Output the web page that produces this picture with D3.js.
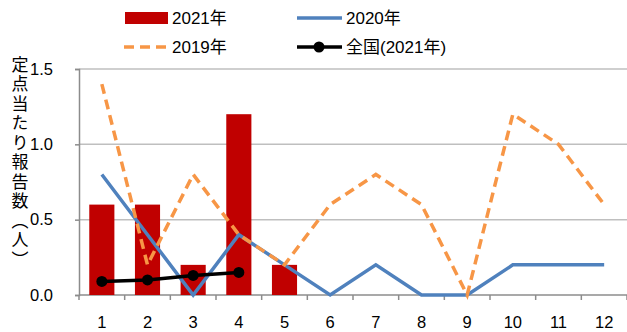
<!DOCTYPE html>
<html>
<head>
<meta charset="utf-8">
<script src="https://cdn.jsdelivr.net/npm/d3@7"></script>
<style>
  body { margin: 0; background: #fff; }
  text { font-family: "Liberation Sans", "Noto Sans CJK JP", sans-serif; }
</style>
</head>
<body>
<div id="chart"></div>
<script>
// data
var months = ["1","2","3","4","5","6","7","8","9","10","11","12"];
var y2021 = [0.6, 0.6, 0.2, 1.2, 0.2];
var y2020 = [0.8, 0.4, 0, 0.4, 0.2, 0, 0.2, 0, 0, 0.2, 0.2, 0.2];
var y2019 = [1.4, 0.2, 0.8, 0.4, 0.2, 0.6, 0.8, 0.6, 0, 1.2, 1.0, 0.6];
var national2021 = [0.09, 0.10, 0.13, 0.15];
var yTicks = [0, 0.5, 1.0, 1.5];

var W = 627, H = 332;
var margin = {top: 69, right: 0, bottom: 37, left: 79},
    width = W - margin.left - margin.right,
    height = H - margin.top - margin.bottom;

var svg = d3.select("#chart").append("svg")
  .attr("width", W).attr("height", H);
var g = svg.append("g")
  .attr("transform", "translate(" + margin.left + "," + margin.top + ")");

var x = d3.scaleBand().domain(months).range([0, width]).paddingInner(0.45).paddingOuter(0.225);
var xc = function(i) { return x(months[i]) + x.bandwidth() / 2; };
var y = d3.scaleLinear().domain([0, 1.5]).range([height, 0]);

// gridlines
g.selectAll(".grid").data(yTicks.slice(1)).enter().append("line")
  .attr("x1", 0).attr("x2", width)
  .attr("y1", function(d) { return y(d); }).attr("y2", function(d) { return y(d); })
  .attr("stroke", "#bfbfbf").attr("stroke-width", 1.5);

// y axis
var yAxis = g.append("g")
  .call(d3.axisLeft(y).tickValues(yTicks).tickFormat(d3.format(".1f")).tickSize(4).tickPadding(22));
yAxis.select(".domain").attr("stroke", "#8c8c8c").attr("stroke-width", 1.5);
yAxis.selectAll(".tick line").attr("stroke", "#8c8c8c").attr("stroke-width", 1.5);
yAxis.selectAll("text").attr("font-size", 16.5).attr("fill", "#000")
  .attr("font-family", "Liberation Sans");

// x axis with ticks at category boundaries
var step = x.step();
var xAxisG = g.append("g").attr("transform", "translate(0," + height + ")");
xAxisG.append("line").attr("x1", 0).attr("x2", width).attr("stroke", "#8c8c8c").attr("stroke-width", 1.5);
xAxisG.selectAll(".xt").data(d3.range(months.length + 1)).enter().append("line")
  .attr("x1", function(d) { return d * step; }).attr("x2", function(d) { return d * step; })
  .attr("y1", 0).attr("y2", 5).attr("stroke", "#8c8c8c").attr("stroke-width", 1.5);
xAxisG.selectAll(".xl").data(months).enter().append("text")
  .attr("x", function(d, i) { return xc(i); }).attr("y", 33)
  .attr("text-anchor", "middle").attr("font-size", 16.5).text(function(d) { return d; });

// bars 2021
g.selectAll(".bar").data(y2021).enter().append("rect")
  .attr("x", function(d, i) { return x(months[i]); })
  .attr("width", x.bandwidth())
  .attr("y", function(d) { return y(d); })
  .attr("height", function(d) { return height - y(d); })
  .attr("fill", "#c00000");

var line = d3.line()
  .x(function(d, i) { return xc(i); })
  .y(function(d) { return y(d); });

g.append("path").datum(y2020).attr("d", line)
  .attr("fill", "none").attr("stroke", "#4f81bd").attr("stroke-width", 3.5);

g.append("path").datum(y2019).attr("d", line)
  .attr("fill", "none").attr("stroke", "#f79646").attr("stroke-width", 3.5)
  .attr("stroke-dasharray", "10,6");

g.append("path").datum(national2021).attr("d", line)
  .attr("fill", "none").attr("stroke", "#000").attr("stroke-width", 3.5);
g.selectAll(".dot").data(national2021).enter().append("circle")
  .attr("cx", function(d, i) { return xc(i); }).attr("cy", function(d) { return y(d); })
  .attr("r", 5.5).attr("fill", "#000");

// y title, vertical
svg.append("text")
  .attr("x", 18).attr("y", 56)
  .style("writing-mode", "vertical-rl")
  .attr("font-size", 17)
  .attr("font-family", "Noto Sans CJK JP")
  .attr("letter-spacing", 2.5)
  .text("定点当たり報告数（人）");

// legend
var leg = svg.append("g");
leg.append("rect").attr("x", 125).attr("y", 12).attr("width", 43).attr("height", 12).attr("fill", "#c00000");
leg.append("line").attr("x1", 297).attr("x2", 342).attr("y1", 18).attr("y2", 18)
  .attr("stroke", "#4f81bd").attr("stroke-width", 3.5);
leg.append("line").attr("x1", 124).attr("x2", 168).attr("y1", 47).attr("y2", 47)
  .attr("stroke", "#f79646").attr("stroke-width", 3.5).attr("stroke-dasharray", "10,6");
leg.append("line").attr("x1", 297).attr("x2", 342).attr("y1", 47).attr("y2", 47)
  .attr("stroke", "#000").attr("stroke-width", 3.5);
leg.append("circle").attr("cx", 319).attr("cy", 47).attr("r", 5.5).attr("fill", "#000");
var legText = [["2021年", 172, 24], ["2020年", 346, 24], ["2019年", 172, 53], ["全国(2021年)", 346, 53]];
leg.selectAll(".lt").data(legText).enter().append("text")
  .attr("x", function(d) { return d[1]; }).attr("y", function(d) { return d[2]; })
  .attr("font-size", 17).text(function(d) { return d[0]; });
</script>
</body>
</html>
